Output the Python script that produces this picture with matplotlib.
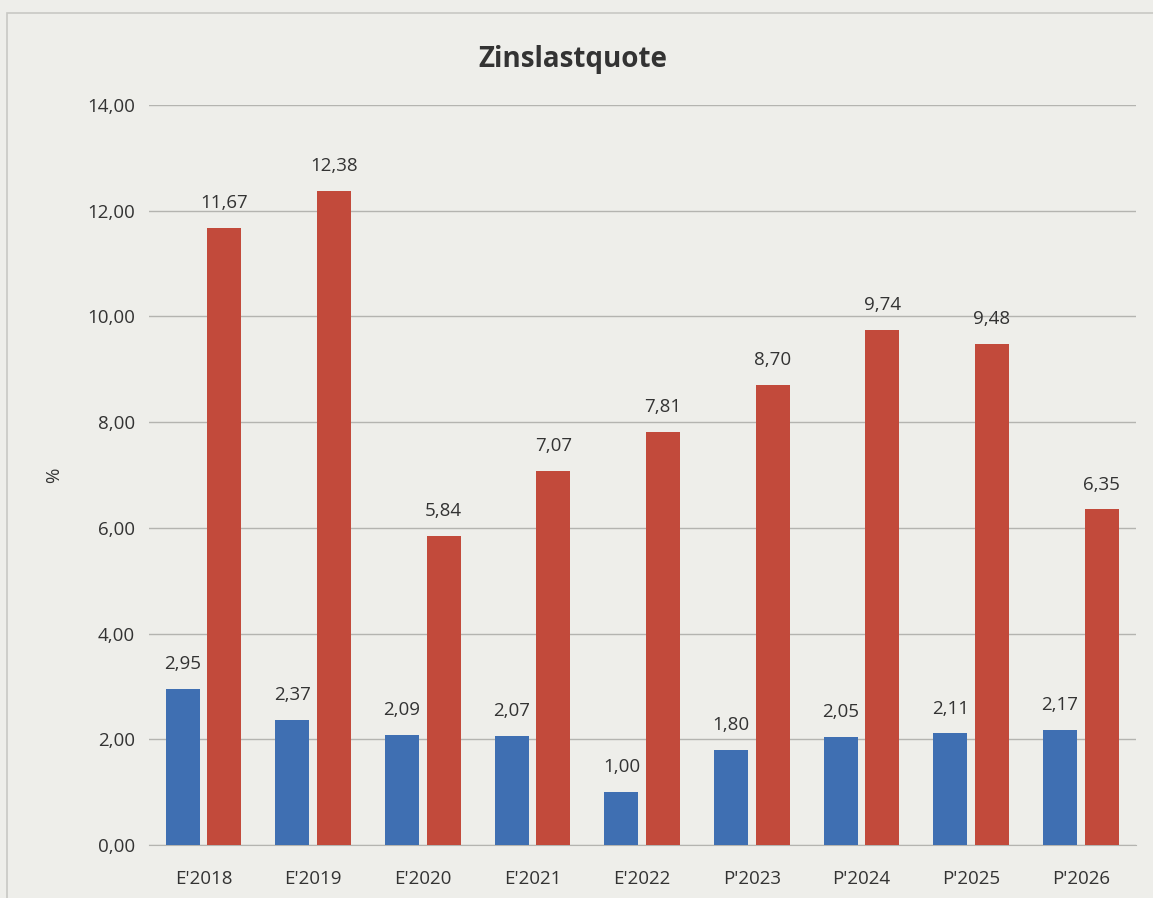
import numpy as np
import matplotlib
matplotlib.use('Agg')
import matplotlib.pyplot as plt
from matplotlib.patches import Rectangle

categories = ["E'2018", "E'2019", "E'2020", "E'2021", "E'2022",
              "P'2023", "P'2024", "P'2025", "P'2026"]
blue_values = [2.95, 2.37, 2.09, 2.07, 1.00, 1.80, 2.05, 2.11, 2.17]
red_values = [11.67, 12.38, 5.84, 7.07, 7.81, 8.70, 9.74, 9.48, 6.35]
y_ticks = [0, 2, 4, 6, 8, 10, 12, 14]

plt.rcParams['font.family'] = ['Open Sans', 'DejaVu Sans']

paper = "#eeeeea"
blue = "#3f6fb2"
red = "#c24a3b"
text_col = "#333333"
fs = 13.5

fig = plt.figure(figsize=(11.53, 8.98), dpi=100, facecolor=paper)
ax = fig.add_axes([0.129, 0.059, 0.856, 0.824])
ax.set_facecolor(paper)

# outer chart frame
fig.patches.append(Rectangle((0.006, -0.01), 1.2, 0.995, transform=fig.transFigure,
                             fill=False, edgecolor="#c8c8c4", linewidth=1.2))

x = np.arange(len(categories))
w = 0.31
off = 0.19
bb = ax.bar(x - off, blue_values, w, color=blue, zorder=3)
rb = ax.bar(x + off, red_values, w, color=red, zorder=3)

for bars, vals in ((bb, blue_values), (rb, red_values)):
    for b, v in zip(bars, vals):
        ax.text(b.get_x() + b.get_width() / 2, v + 0.3, f"{v:.2f}".replace(".", ","),
                ha="center", va="bottom", fontsize=fs, color=text_col)

ax.set_xlim(-0.5, len(categories) - 0.5)
ax.set_ylim(0, 14)
ax.set_yticks(y_ticks)
ax.set_yticklabels([f"{t:.2f}".replace(".", ",") for t in y_ticks])
ax.set_xticks(x)
ax.set_xticklabels(categories)
ax.tick_params(axis="both", length=0, labelsize=fs, colors=text_col)
ax.tick_params(axis="x", pad=18)
ax.tick_params(axis="y", pad=10)

ax.grid(axis="y", color="#b4b4b0", linewidth=1, zorder=0)
for s in ("top", "right", "left"):
    ax.spines[s].set_visible(False)
ax.spines["bottom"].set_color("#b4b4b0")

ax.set_ylabel("%", fontsize=fs, color=text_col)
ax.yaxis.set_label_coords(-0.087, 0.5)
fig.text(0.497, 0.934, "Zinslastquote", ha="center", va="center",
         fontsize=20, fontweight="bold", color=text_col)

fig.savefig("out.png", dpi=100, facecolor=paper)
